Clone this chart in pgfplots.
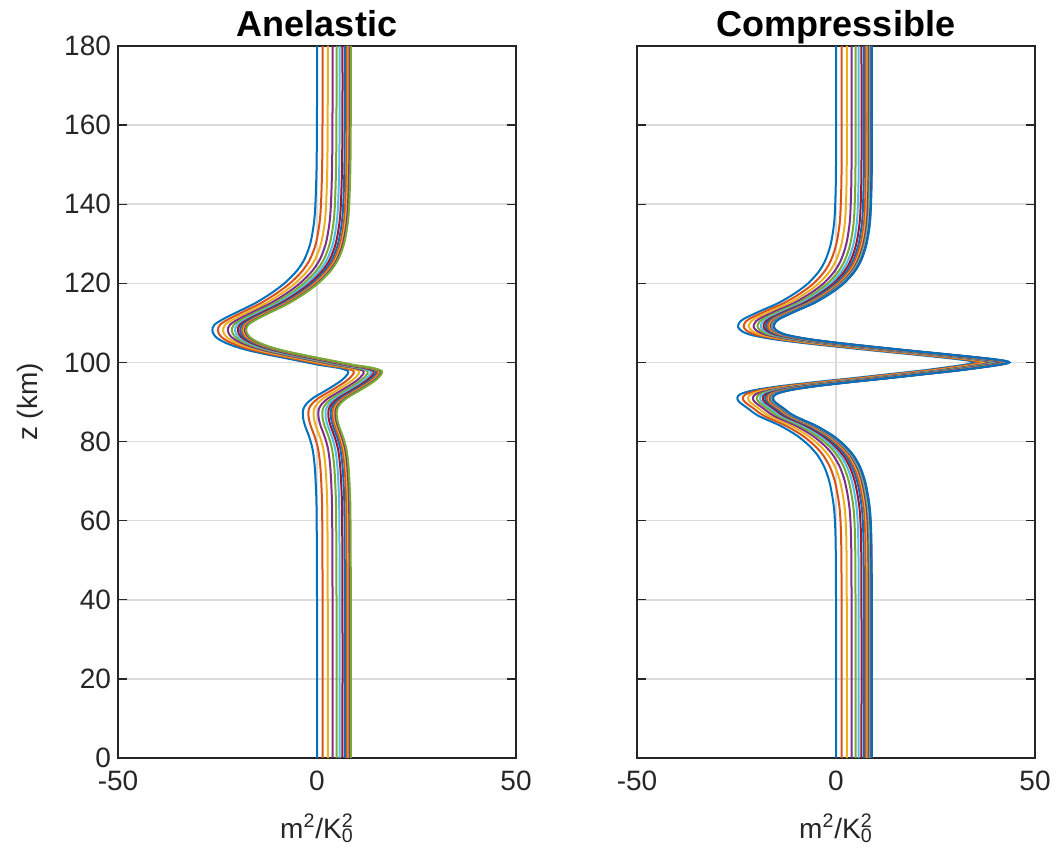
\documentclass[border=0pt]{standalone}
\usepackage{fontspec}
\setmainfont{Liberation Sans}
\usepackage{pgfplots}
\usepackage{pgfplotstable}
\pgfplotsset{compat=1.18}
\definecolor{m1}{rgb}{0,0.447,0.741}
\definecolor{m2}{rgb}{0.850,0.325,0.098}
\definecolor{m3}{rgb}{0.929,0.694,0.125}
\definecolor{m4}{rgb}{0.494,0.184,0.556}
\definecolor{m5}{rgb}{0.466,0.674,0.188}
\definecolor{m6}{rgb}{0.301,0.745,0.933}
\definecolor{m7}{rgb}{0.635,0.078,0.184}
\definecolor{axc}{rgb}{0.15,0.15,0.15}
\pgfplotscreateplotcyclelist{matlab}{{m1},{m2},{m3},{m4},{m5},{m6},{m7}}

\pgfplotstableread{
z a1 a2 a3 a4 a5 a6 a7 a8 a9 a10 a11 a12
0 0 1.4 2.7 3.9 4.9 5.7 6.4 7.0 7.5 7.9 8.2 8.5
40 0 1.4 2.7 3.9 4.9 5.7 6.4 7.0 7.5 7.9 8.2 8.5
62 -0.1 1.3 2.6 3.8 4.8 5.6 6.3 6.9 7.4 7.8 8.1 8.4
69 -0.3 1.1 2.4 3.6 4.6 5.4 6.1 6.7 7.2 7.6 7.9 8.2
74 -0.6 0.8 2.1 3.3 4.3 5.1 5.8 6.4 6.9 7.3 7.6 7.9
78 -1.1 0.3 1.6 2.8 3.8 4.6 5.3 5.9 6.4 6.8 7.1 7.4
81 -1.9 -0.5 0.8 2.0 3.0 3.8 4.5 5.1 5.6 6.0 6.3 6.6
84 -3.0 -1.6 -0.3 0.9 1.9 2.7 3.4 4.0 4.5 4.9 5.2 5.5
86 -3.5 -2.1 -0.8 0.4 1.4 2.2 2.9 3.5 4.0 4.4 4.7 5.0
88 -3.5 -2.1 -0.8 0.4 1.4 2.2 2.9 3.5 4.0 4.4 4.7 5.0
89.5 -2.7 -1.3 0.0 1.2 2.2 3.0 3.7 4.3 4.8 5.2 5.5 5.8
91 -1.0 0.4 1.7 2.9 3.9 4.7 5.4 6.0 6.5 6.9 7.2 7.5
92.5 1.5 2.9 4.2 5.4 6.4 7.2 7.9 8.5 9.0 9.4 9.7 10.0
94 4.0 5.4 6.7 7.9 8.9 9.7 10.4 11.0 11.5 11.9 12.2 12.5
95.5 6.2 7.6 8.9 10.1 11.1 11.9 12.6 13.2 13.7 14.1 14.4 14.7
96.8 7.5 8.9 10.2 11.4 12.4 13.2 13.9 14.5 15.0 15.4 15.7 16.0
97.8 7.8 9.2 10.5 11.7 12.7 13.5 14.2 14.8 15.3 15.7 16.0 16.3
98.6 5.5 6.9 8.2 9.4 10.4 11.2 11.9 12.5 13.0 13.4 13.7 14.0
99.3 1.0 2.4 3.7 4.9 5.9 6.7 7.4 8.0 8.5 8.9 9.2 9.5
100.2 -3.5 -2.1 -0.8 0.4 1.4 2.2 2.9 3.5 4.0 4.4 4.7 5.0
101 -7.5 -6.1 -4.8 -3.6 -2.6 -1.8 -1.1 -0.5 0.0 0.4 0.7 1.0
102 -12.5 -11.1 -9.8 -8.6 -7.6 -6.8 -6.1 -5.5 -5.0 -4.6 -4.3 -4.0
103 -17.0 -15.6 -14.3 -13.1 -12.1 -11.3 -10.6 -10.0 -9.5 -9.1 -8.8 -8.5
104 -20.5 -19.1 -17.8 -16.6 -15.6 -14.8 -14.1 -13.5 -13.0 -12.6 -12.3 -12.0
105.2 -23.5 -22.1 -20.8 -19.6 -18.6 -17.8 -17.1 -16.5 -16.0 -15.6 -15.3 -15.0
106.5 -25.5 -24.1 -22.8 -21.6 -20.6 -19.8 -19.1 -18.5 -18.0 -17.6 -17.3 -17.0
108 -26.3 -24.9 -23.6 -22.4 -21.4 -20.6 -19.9 -19.3 -18.8 -18.4 -18.1 -17.8
109.5 -25.8 -24.4 -23.1 -21.9 -20.9 -20.1 -19.4 -18.8 -18.3 -17.9 -17.6 -17.3
111 -23.5 -22.1 -20.8 -19.6 -18.6 -17.8 -17.1 -16.5 -16.0 -15.6 -15.3 -15.0
113 -19.5 -18.1 -16.8 -15.6 -14.6 -13.8 -13.1 -12.5 -12.0 -11.6 -11.3 -11.0
115 -15.5 -14.1 -12.8 -11.6 -10.6 -9.8 -9.1 -8.5 -8.0 -7.6 -7.3 -7.0
117.5 -11.5 -10.1 -8.8 -7.6 -6.6 -5.8 -5.1 -4.5 -4.0 -3.6 -3.3 -3.0
120 -8.2 -6.8 -5.5 -4.3 -3.3 -2.5 -1.8 -1.2 -0.7 -0.3 0.0 0.3
123 -5.2 -3.8 -2.5 -1.3 -0.3 0.5 1.2 1.8 2.3 2.7 3.0 3.3
126 -3.2 -1.8 -0.5 0.7 1.7 2.5 3.2 3.8 4.3 4.7 5.0 5.3
130 -1.7 -0.3 1.0 2.2 3.2 4.0 4.7 5.3 5.8 6.2 6.5 6.8
135 -0.8 0.6 1.9 3.1 4.1 4.9 5.6 6.2 6.7 7.1 7.4 7.7
140 -0.4 1.0 2.3 3.5 4.5 5.3 6.0 6.6 7.1 7.5 7.8 8.1
150 -0.1 1.3 2.6 3.8 4.8 5.6 6.3 6.9 7.4 7.8 8.1 8.4
165 0 1.4 2.7 3.9 4.9 5.7 6.4 7.0 7.5 7.9 8.2 8.5
180 0 1.4 2.7 3.9 4.9 5.7 6.4 7.0 7.5 7.9 8.2 8.5
}\anelastic

\pgfplotstableread{
z b1 b2 b3 b4 b5 b6 b7 b8 b9 b10 b11 b12 b13 b14 b15
0 0 1.4 2.7 3.9 4.9 5.7 6.4 7.0 7.5 7.9 8.2 8.5 8.7 8.9 9.0
40 0 1.4 2.7 3.9 4.9 5.7 6.4 7.0 7.5 7.9 8.2 8.5 8.7 8.9 9.0
55 -0.1 1.3 2.6 3.8 4.8 5.6 6.3 6.9 7.4 7.8 8.1 8.4 8.6 8.8 8.9
62 -0.4 1.0 2.3 3.5 4.5 5.3 6.0 6.6 7.1 7.5 7.8 8.1 8.3 8.5 8.6
66 -0.9 0.5 1.8 3.0 4.0 4.8 5.5 6.1 6.6 7.0 7.3 7.6 7.8 8.0 8.1
70 -1.7 -0.3 1.0 2.2 3.2 4.0 4.7 5.3 5.8 6.2 6.5 6.8 7.0 7.2 7.3
73.5 -2.9 -1.5 -0.2 1.0 2.0 2.8 3.5 4.1 4.6 5.0 5.3 5.6 5.8 6.0 6.1
76.5 -4.6 -3.2 -1.9 -0.7 0.3 1.1 1.8 2.4 2.9 3.3 3.6 3.9 4.1 4.3 4.4
79 -6.8 -5.4 -4.1 -2.9 -1.9 -1.1 -0.4 0.2 0.7 1.1 1.4 1.7 1.9 2.1 2.2
81.5 -9.8 -8.4 -7.1 -5.9 -4.9 -4.1 -3.4 -2.8 -2.3 -1.9 -1.6 -1.3 -1.1 -0.9 -0.8
84 -14.0 -12.6 -11.3 -10.1 -9.1 -8.3 -7.6 -7.0 -6.5 -6.1 -5.8 -5.5 -5.3 -5.1 -5.0
86.5 -19.5 -18.1 -16.8 -15.6 -14.6 -13.8 -13.1 -12.5 -12.0 -11.6 -11.3 -11.0 -10.8 -10.6 -10.5
88.5 -22.3 -20.9 -19.6 -18.4 -17.4 -16.6 -15.9 -15.3 -14.8 -14.4 -14.1 -13.8 -13.6 -13.4 -13.3
90 -24.3 -22.9 -21.6 -20.4 -19.4 -18.6 -17.9 -17.3 -16.8 -16.4 -16.1 -15.8 -15.6 -15.4 -15.3
91 -24.8 -23.4 -22.1 -20.9 -19.9 -19.1 -18.4 -17.8 -17.3 -16.9 -16.6 -16.3 -16.1 -15.9 -15.8
92 -24.0 -22.6 -21.3 -20.1 -19.1 -18.3 -17.6 -17.0 -16.5 -16.1 -15.8 -15.5 -15.3 -15.1 -15.0
93 -20.5 -19.1 -17.8 -16.6 -15.6 -14.8 -14.1 -13.5 -13.0 -12.6 -12.3 -12.0 -11.8 -11.6 -11.5
94 -14.0 -12.6 -11.3 -10.1 -9.1 -8.3 -7.6 -7.0 -6.5 -6.1 -5.8 -5.5 -5.3 -5.1 -5.0
95 -5.5 -4.1 -2.8 -1.6 -0.6 0.2 0.9 1.5 2.0 2.4 2.7 3.0 3.2 3.4 3.5
96 4.0 5.4 6.7 7.9 8.9 9.7 10.4 11.0 11.5 11.9 12.2 12.5 12.7 12.9 13.0
97 13.0 14.4 15.7 16.9 17.9 18.7 19.4 20.0 20.5 20.9 21.2 21.5 21.7 21.9 22.0
98 22.0 23.4 24.7 25.9 26.9 27.7 28.4 29.0 29.5 29.9 30.2 30.5 30.7 30.9 31.0
99 29.5 30.9 32.2 33.4 34.4 35.2 35.9 36.5 37.0 37.4 37.7 38.0 38.2 38.4 38.5
99.6 33.3 34.7 36.0 37.2 38.2 39.0 39.7 40.3 40.8 41.2 41.5 41.8 42.0 42.2 42.3
100 34.6 36.0 37.3 38.5 39.5 40.3 41.0 41.6 42.1 42.5 42.8 43.1 43.3 43.5 43.6
100.4 33.5 34.9 36.2 37.4 38.4 39.2 39.9 40.5 41.0 41.4 41.7 42.0 42.2 42.4 42.5
101 29.0 30.4 31.7 32.9 33.9 34.7 35.4 36.0 36.5 36.9 37.2 37.5 37.7 37.9 38.0
102 19.5 20.9 22.2 23.4 24.4 25.2 25.9 26.5 27.0 27.4 27.7 28.0 28.2 28.4 28.5
103 9.5 10.9 12.2 13.4 14.4 15.2 15.9 16.5 17.0 17.4 17.7 18.0 18.2 18.4 18.5
104 0 1.4 2.7 3.9 4.9 5.7 6.4 7.0 7.5 7.9 8.2 8.5 8.7 8.9 9.0
105 -9.0 -7.6 -6.3 -5.1 -4.1 -3.3 -2.6 -2.0 -1.5 -1.1 -0.8 -0.5 -0.3 -0.1 0.0
106 -16.5 -15.1 -13.8 -12.6 -11.6 -10.8 -10.1 -9.5 -9.0 -8.6 -8.3 -8.0 -7.8 -7.6 -7.5
107 -21.5 -20.1 -18.8 -17.6 -16.6 -15.8 -15.1 -14.5 -14.0 -13.6 -13.3 -13.0 -12.8 -12.6 -12.5
108 -23.8 -22.4 -21.1 -19.9 -18.9 -18.1 -17.4 -16.8 -16.3 -15.9 -15.6 -15.3 -15.1 -14.9 -14.8
109 -24.6 -23.2 -21.9 -20.7 -19.7 -18.9 -18.2 -17.6 -17.1 -16.7 -16.4 -16.1 -15.9 -15.7 -15.6
110 -24.3 -22.9 -21.6 -20.4 -19.4 -18.6 -17.9 -17.3 -16.8 -16.4 -16.1 -15.8 -15.6 -15.4 -15.3
111 -23.2 -21.8 -20.5 -19.3 -18.3 -17.5 -16.8 -16.2 -15.7 -15.3 -15.0 -14.7 -14.5 -14.3 -14.2
113 -19.0 -17.6 -16.3 -15.1 -14.1 -13.3 -12.6 -12.0 -11.5 -11.1 -10.8 -10.5 -10.3 -10.1 -10.0
115 -14.5 -13.1 -11.8 -10.6 -9.6 -8.8 -8.1 -7.5 -7.0 -6.6 -6.3 -6.0 -5.8 -5.6 -5.5
117.5 -10.3 -8.9 -7.6 -6.4 -5.4 -4.6 -3.9 -3.3 -2.8 -2.4 -2.1 -1.8 -1.6 -1.4 -1.3
120 -7.0 -5.6 -4.3 -3.1 -2.1 -1.3 -0.6 0.0 0.5 0.9 1.2 1.5 1.7 1.9 2.0
123 -4.3 -2.9 -1.6 -0.4 0.6 1.4 2.1 2.7 3.2 3.6 3.9 4.2 4.4 4.6 4.7
126 -2.6 -1.2 0.1 1.3 2.3 3.1 3.8 4.4 4.9 5.3 5.6 5.9 6.1 6.3 6.4
130 -1.3 0.1 1.4 2.6 3.6 4.4 5.1 5.7 6.2 6.6 6.9 7.2 7.4 7.6 7.7
135 -0.5 0.9 2.2 3.4 4.4 5.2 5.9 6.5 7.0 7.4 7.7 8.0 8.2 8.4 8.5
140 -0.2 1.2 2.5 3.7 4.7 5.5 6.2 6.8 7.3 7.7 8.0 8.3 8.5 8.7 8.8
150 0 1.4 2.7 3.9 4.9 5.7 6.4 7.0 7.5 7.9 8.2 8.5 8.7 8.9 9.0
180 0 1.4 2.7 3.9 4.9 5.7 6.4 7.0 7.5 7.9 8.2 8.5 8.7 8.9 9.0
}\compressible

\pgfplotsset{
  myax/.style={
    width=199pt, height=356pt, scale only axis,
    xmin=-50, xmax=50, ymin=0, ymax=180,
    xtick={-50,0,50}, xticklabels={-50,0,50},
    ytick={0,20,...,180},
    grid=major,
    major grid style={line width=0.8pt, color=black!14},
    tick align=inside, major tick length=4.5pt,
    tick style={line width=0.7pt, color=axc},
    axis line style={line width=0.8pt, color=axc},
    /pgf/number format/assume math mode=true,
    every tick label/.append style={font=\fontsize{14}{16}\selectfont, text=axc},
    xticklabel style={yshift=-3pt},
    title style={font=\fontsize{18}{20}\selectfont\bfseries, text=black, inner sep=0pt, at={(axis description cs:0.5,0.997)}, anchor=base},
    xlabel={m\textsuperscript{2}/K\rlap{\textsubscript{0}}\textsuperscript{2}},
    xlabel style={font=\fontsize{14}{16}\selectfont, text=axc, inner sep=0pt, at={(axis description cs:0.5,-0.1124)}, anchor=base},
    ylabel style={font=\fontsize{14}{16}\selectfont, text=axc, inner sep=0pt, at={(axis description cs:-0.221,0.5)}, anchor=center},
    cycle list name=matlab,
    every axis plot post/.append style={smooth, mark=none, line width=1pt},
  }
}

\begin{document}
\begin{tikzpicture}
\begin{axis}[myax, at={(0pt,0pt)}, anchor=south west, title={Anelastic}, ylabel={z (km)},
  yticklabels={0,20,40,60,80,100,120,140,160,180}]
\pgfplotsinvokeforeach{1,...,12}{\addplot table[x index=#1, y index=0]{\anelastic};}
\coordinate (O) at (rel axis cs:0,0);
\end{axis}
\begin{axis}[myax, at={(259.5pt,0pt)}, anchor=south west, title={Compressible}, yticklabels={}]
\pgfplotsinvokeforeach{1,...,15}{\addplot table[x index=#1, y index=0]{\compressible};}
\end{axis}
\pgfresetboundingbox
\path ([shift={(-59pt,-51.5pt)}]O) rectangle ([shift={(469pt,379pt)}]O);
\end{tikzpicture}
\end{document}
